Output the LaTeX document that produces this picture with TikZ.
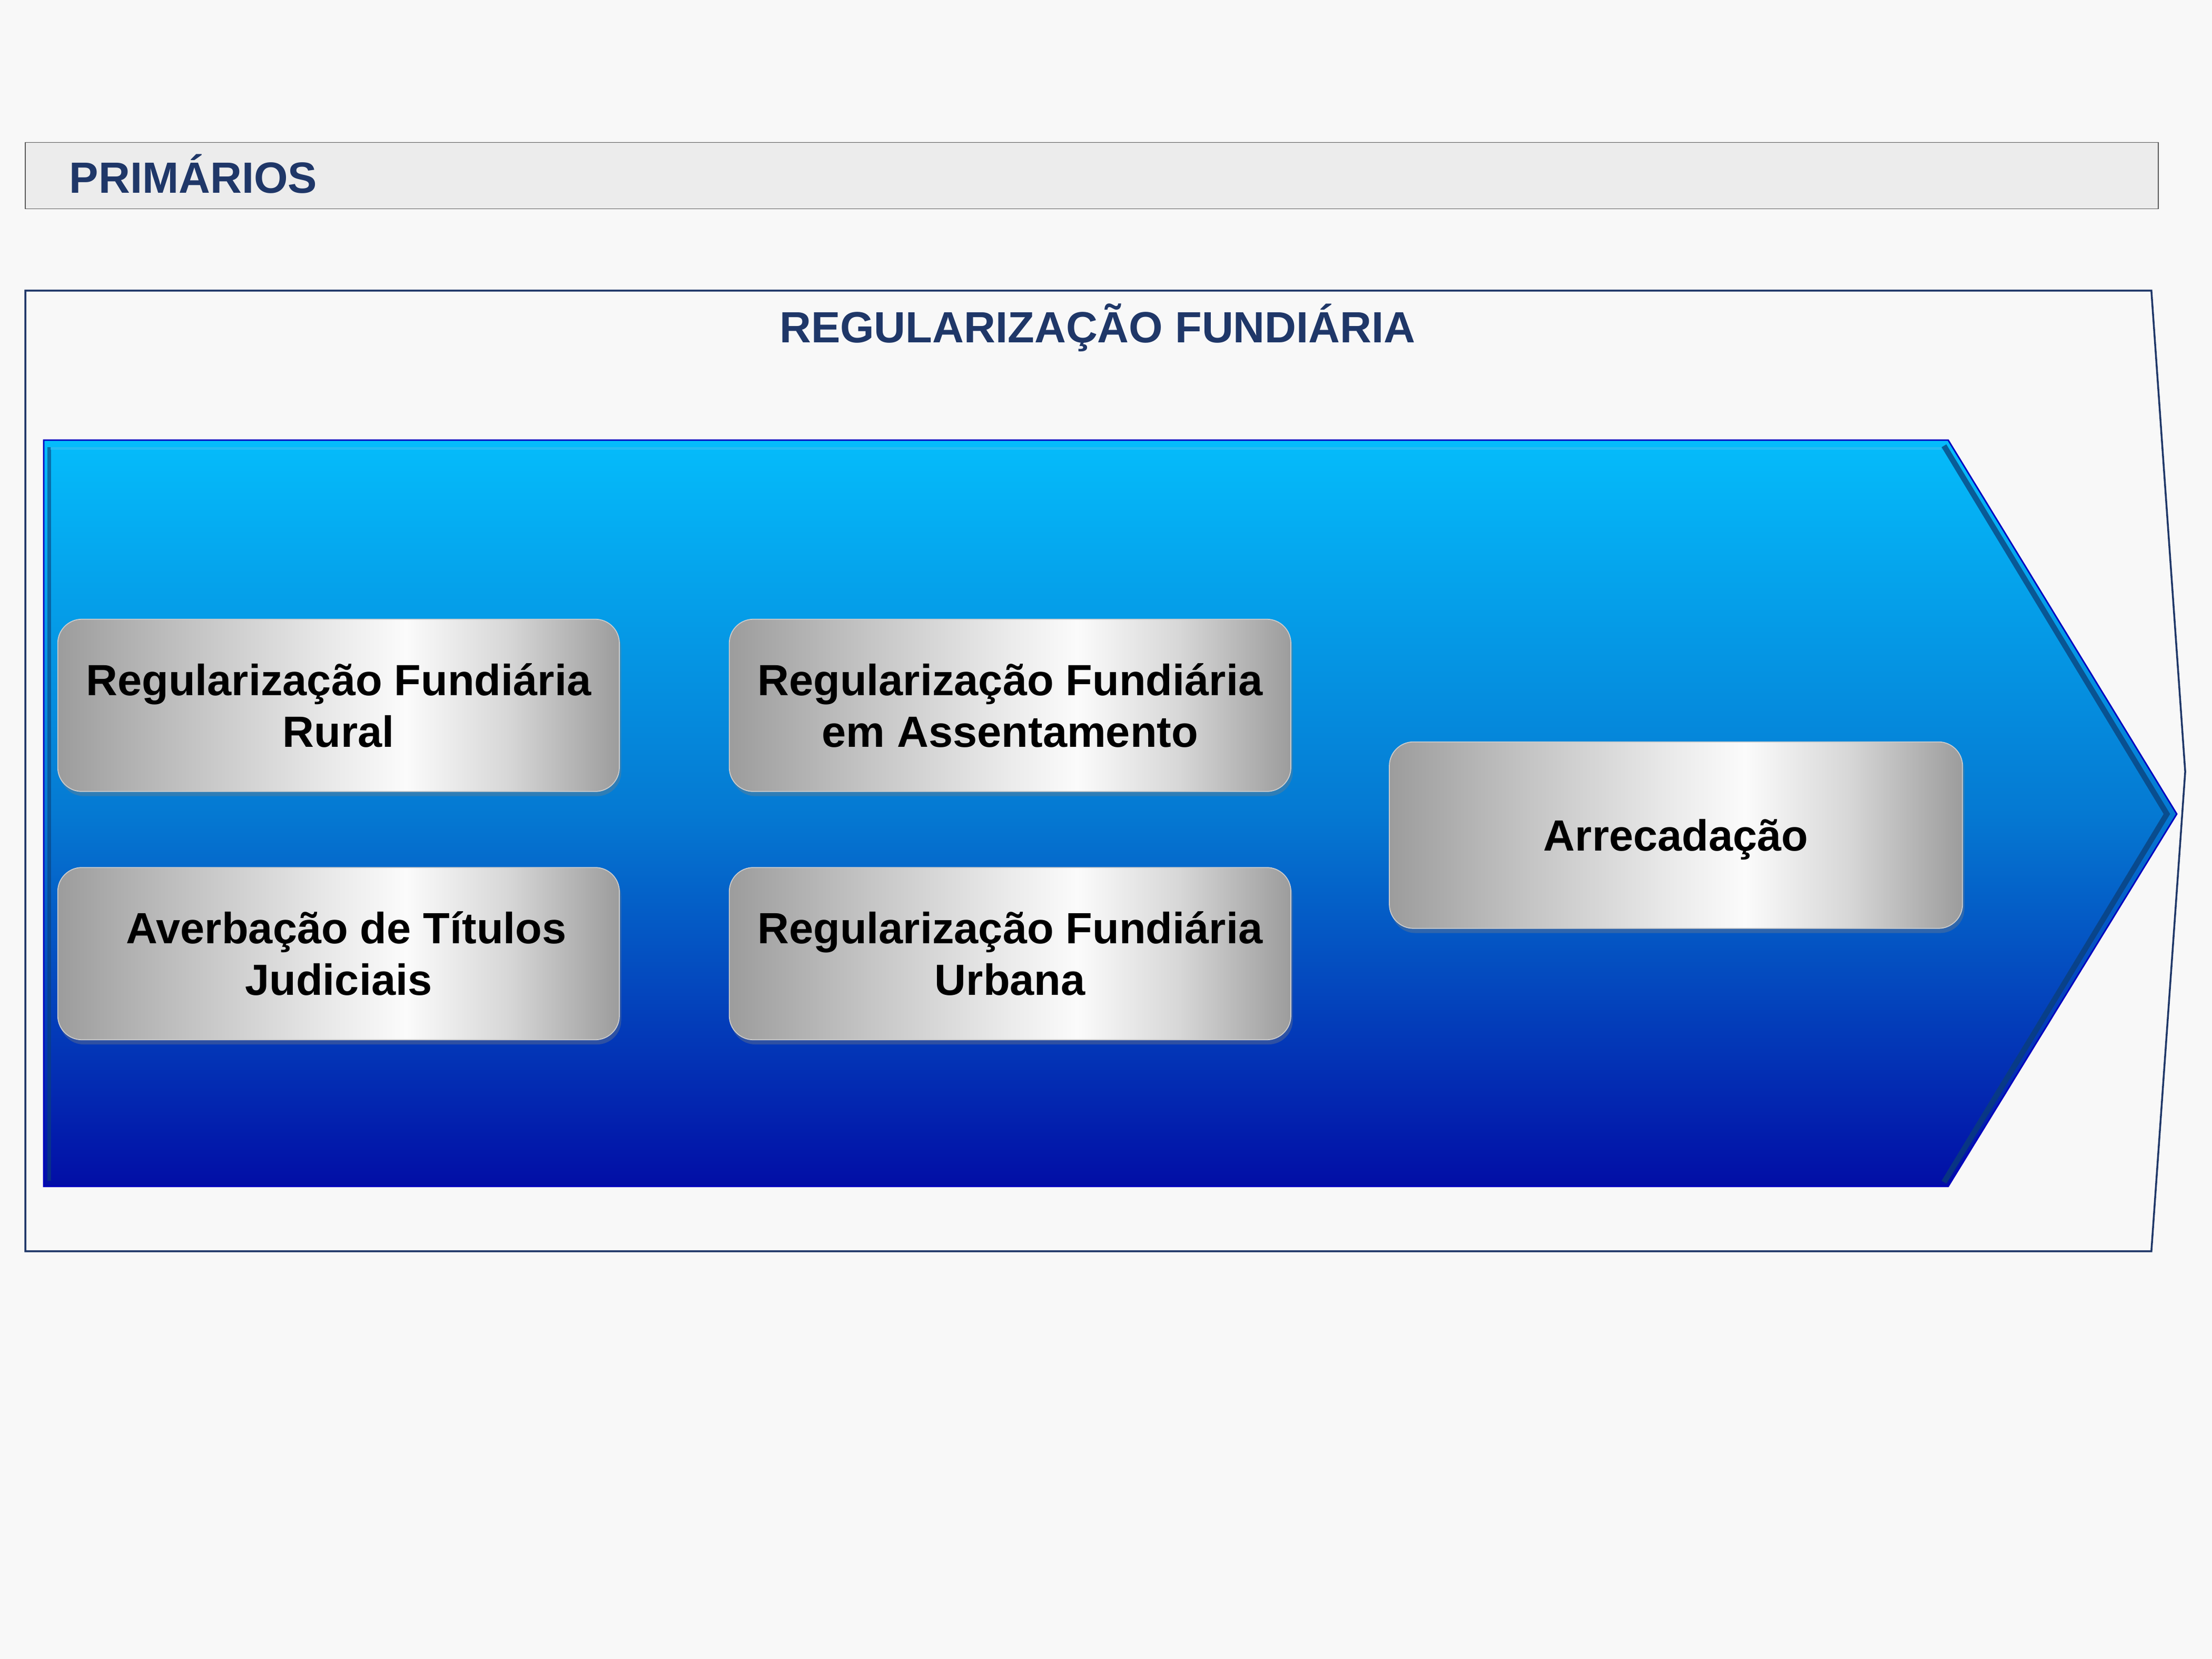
\documentclass[tikz,border=0pt]{standalone}
\usepackage{fontspec}
\setmainfont{Liberation Sans}
\usetikzlibrary{shadows}
\definecolor{navy}{HTML}{1F3768}
\definecolor{pagebg}{HTML}{F8F8F8}
\definecolor{barfill}{HTML}{ECECEC}
\definecolor{skytop}{HTML}{05BCFB}
\definecolor{skymid}{HTML}{0579D2}
\definecolor{deepblue}{HTML}{020EA6}
\definecolor{bevel}{HTML}{0B3F78}
\definecolor{boxgray}{HTML}{9C9C9C}
\pgfdeclarehorizontalshading{silver}{100bp}{color(0bp)=(boxgray); color(25bp)=(boxgray);
    color(37bp)=(white!40!boxgray); color(50bp)=(white!80!boxgray); color(56bp)=(white!96!boxgray);
    color(65bp)=(white!60!boxgray); color(75bp)=(boxgray); color(100bp)=(boxgray)}
\begin{document}
\begin{tikzpicture}[x=0.0267857cm, y=-0.0267857cm,
    heading/.style={text=navy, font=\fontsize{23.6}{28}\selectfont\bfseries},
    item/.style={rounded corners=13pt, draw=gray!40, line width=0.5pt, shading=silver,
        minimum width=10.66cm, minimum height=3.27cm, align=center,
        font=\fontsize{23.6}{28}\selectfont\bfseries,
        drop shadow={opacity=0.35, shadow xshift=1pt, shadow yshift=-2.5pt}}]
    \useasboundingbox (0, 0) rectangle (1568, 1176);
    \fill[pagebg] (0, 0) rectangle (1568, 1176);

    % header bar
    \draw[fill=barfill, draw=gray!70!black, line width=0.5pt] (18, 101) rectangle (1530, 148);
    \node[heading, anchor=base west, inner sep=0pt] (primarios) at (49, 137) {PRIMÁRIOS};

    % frame
    \draw[navy, line width=1pt] (18, 206) -- (1525, 206) -- (1549, 547) -- (1525, 887) -- (18, 887) -- cycle;
    \node[heading, anchor=base, inner sep=0pt] (titulo) at (778, 243) {REGULARIZAÇÃO FUNDIÁRIA};

    % blue arrow
    \shade[top color=skytop, bottom color=deepblue, middle color=skymid]
        (31, 312) -- (1381, 312) -- (1543, 577) -- (1381, 841) -- (31, 841) -- cycle;
    \draw[bevel, line width=3pt, opacity=0.75, line join=miter]
        (1378, 316) -- (1536, 577) -- (1378, 838);
    \draw[bevel, line width=2pt, opacity=0.6] (35, 317) -- (35, 837);
    \draw[cyan!80!white, line width=1.5pt, opacity=0.7] (36, 318) -- (1376, 318);
    \draw[blue!75!black, line width=0.8pt]
        (31, 312) -- (1381, 312) -- (1543, 577) -- (1381, 841) -- (31, 841) -- cycle;

    % boxes
    \node[item] (rural) at (240, 500) {Regularização Fundiária\\Rural};
    \node[item] (assent) at (716, 500) {Regularização Fundiária\\em Assentamento};
    \node[item] (averb) at (240, 676) {\hspace*{0.3cm}Averbação de Títulos\\Judiciais};
    \node[item] (urbana) at (716, 676) {Regularização Fundiária\\Urbana};
    \node[item, minimum width=10.88cm, minimum height=3.54cm, text depth=0pt] (arrec) at (1188, 592) {Arrecadação};
\end{tikzpicture}
\end{document}
